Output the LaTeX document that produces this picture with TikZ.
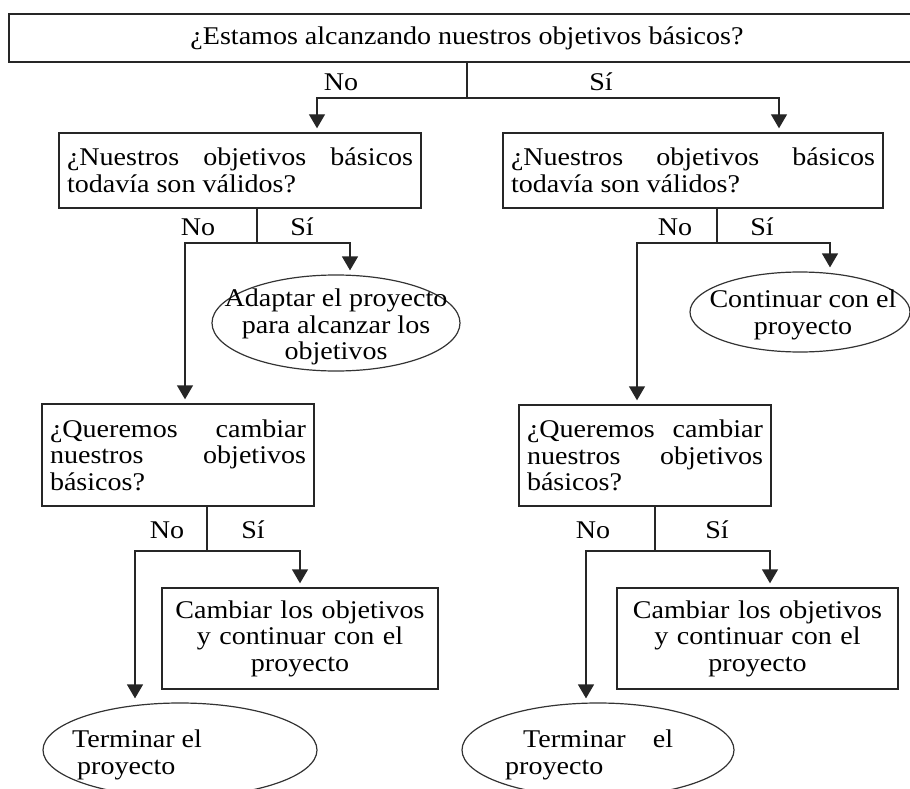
\documentclass[tikz,border=0pt]{standalone}
\usepackage{fontspec}
\setmainfont{Liberation Serif}[FakeStretch=1.1]
\usetikzlibrary{arrows.meta,shapes.geometric}
\hyphenpenalty=10000
\exhyphenpenalty=10000
\tolerance=10000

\begin{document}
\begin{tikzpicture}[x=1pt, y=-1pt, every node/.style={font=\fontsize{25.5}{26.5}\selectfont},
  box/.style={draw=black!85,line width=1.4pt,inner xsep=8pt,inner ysep=0pt,align=justify},
  oval/.style={draw=black!80,line width=1.2pt,ellipse,inner sep=0pt},
  txt/.style={inner sep=0pt,align=center},
  lbl/.style={inner sep=0pt},
  ln/.style={draw=black!85,line width=1.4pt},
  arr/.style={ln,-{Triangle[length=14pt,width=16pt]},shorten >=4pt}]
  \useasboundingbox (0,0) rectangle (910,789);
  % questions
  \node[box,align=center,minimum width=916pt,minimum height=48pt] (a) at (467,38) {¿Estamos alcanzando nuestros objetivos básicos?};
  \node[box,text width=346pt,minimum height=75pt] (b) at (240,170.5) {¿Nuestros objetivos básicos todavía son válidos?};
  \node[box,text width=364pt,minimum height=75pt] (c) at (693,170.5) {¿Nuestros objetivos básicos todavía son válidos?};
  \node[box,text width=256pt,minimum height=102pt] (f) at (178,455) {¿Queremos cambiar nuestros objetivos básicos?};
  \node[box,text width=236pt,minimum height=101pt] (g) at (645,455.5) {¿Queremos cambiar nuestros objetivos básicos?};
  % outcomes
  \node[oval,minimum width=248pt,minimum height=96pt] (d) at (336,323) {};
  \node[txt] (dt) at (336,327) {Adaptar el proyecto\\para alcanzar los\\objetivos};
  \node[oval,minimum width=220pt,minimum height=80pt] (e) at (800,312) {};
  \node[txt] (et) at (803,315) {Continuar con el\\proyecto};
  \node[box,align=center,text width=260pt,minimum height=101pt] (h) at (300,638.5) {Cambiar los objetivos\\y continuar con el\\proyecto};
  \node[box,align=center,text width=265pt,minimum height=101pt] (i) at (757.5,638.5) {Cambiar los objetivos\\y continuar con el\\proyecto};
  \node[oval,minimum width=274pt,minimum height=94pt] (j) at (180,750) {};
  \node[txt,align=left,anchor=west] (jt) at (72,755) {Terminar el\\\hspace*{5pt}proyecto};
  \node[oval,minimum width=272pt,minimum height=94pt] (k) at (598,750) {};
  \node[txt,align=justify,text width=168pt,anchor=west] (kt) at (505,755) {\hspace*{18pt}Terminar el proyecto};
  % branch points
  \coordinate (ja) at (467,98); \coordinate (na) at (317,98); \coordinate (sa) at (779,98);
  \coordinate (jb) at (257,243); \coordinate (nb) at (185,243); \coordinate (sb) at (350,243);
  \coordinate (jc) at (717,243); \coordinate (nc) at (637,243); \coordinate (sc) at (830,243);
  \coordinate (jf) at (207,551); \coordinate (nf) at (135,551); \coordinate (sf) at (300,551);
  \coordinate (jg) at (655,551); \coordinate (ng) at (586,551); \coordinate (sg) at (770,551);
  \draw[ln] (a.south -| ja) -- (ja);
  \draw[arr] (ja) -- (na) -- (na |- b.north); \draw[arr] (ja) -- (sa) -- (sa |- c.north);
  \draw[ln] (b.south -| jb) -- (jb);
  \draw[arr] (jb) -- (nb) -- (nb |- f.north); \draw[arr] (jb) -- (sb) -- (sb |- d.north);
  \draw[ln] (c.south -| jc) -- (jc);
  \draw[arr] (jc) -- (nc) -- (nc |- g.north); \draw[arr] (jc) -- (sc) -- (sc |- e.north);
  \draw[ln] (f.south -| jf) -- (jf);
  \draw[arr] (jf) -- (nf) -- (nf |- j.north); \draw[arr] (jf) -- (sf) -- (sf |- h.north);
  \draw[ln] (g.south -| jg) -- (jg);
  \draw[arr] (jg) -- (ng) -- (ng |- k.north); \draw[arr] (jg) -- (sg) -- (sg |- i.north);
  % answers
  \node[lbl] (noa) at (341,82) {No}; \node[lbl] (sia) at (601,82) {Sí};
  \node[lbl] (nob) at (198,227) {No}; \node[lbl] (sib) at (302,227) {Sí};
  \node[lbl] (noc) at (675,227) {No}; \node[lbl] (sic) at (762,227) {Sí};
  \node[lbl] (nof) at (167,530) {No}; \node[lbl] (sif) at (253,530) {Sí};
  \node[lbl] (nog) at (593,530) {No}; \node[lbl] (sig) at (717,530) {Sí};
\end{tikzpicture}
\end{document}
